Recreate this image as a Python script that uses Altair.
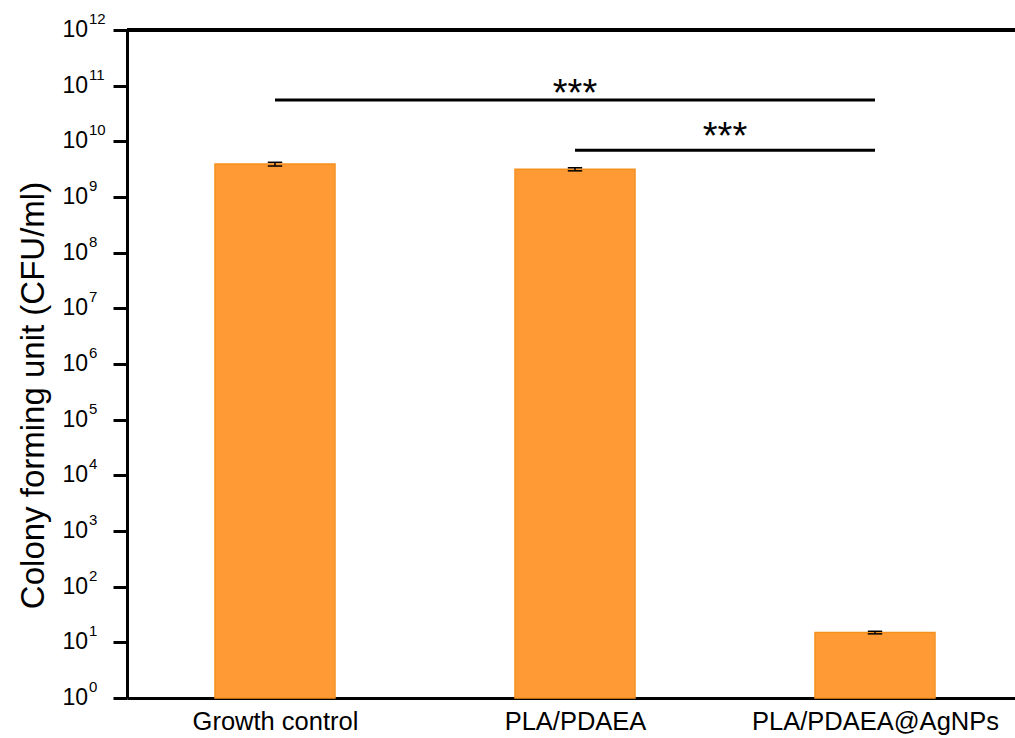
import altair as alt
import pandas as pd

# Bacterial counts per sample (CFU/ml), mean and standard deviation
groups = ["Growth control", "PLA/PDAEA", "PLA/PDAEA@AgNPs"]
cfu_mean = [3.9e9, 3.15e9, 15.0]
cfu_sd = [0.3e9, 0.2e9, 0.8]

# Significance brackets: start group, end group, line level, star level, label
sig_from = [0, 1]
sig_to = [2, 2]
sig_line = [5.5e10, 6.9e9]
sig_text = [9.1e10, 1.55e10]
sig_label = ["***", "***"]

# Decades on the log axis
decades = list(range(0, 13))

FONT = "Liberation Sans"
PLOT_W, PLOT_H = 888, 668
BAR_HALF = 0.2
CAP_HALF = 0.024

bars = pd.DataFrame({
    "group": groups,
    "idx": list(range(len(groups))),
    "mean": cfu_mean,
    "sd": cfu_sd,
})
bars["x0"] = bars["idx"] - BAR_HALF
bars["x1"] = bars["idx"] + BAR_HALF
bars["lo"] = bars["mean"] - bars["sd"]
bars["hi"] = bars["mean"] + bars["sd"]
bars["c0"] = bars["idx"] - CAP_HALF
bars["c1"] = bars["idx"] + CAP_HALF
bars["base"] = 1.0

sig = pd.DataFrame({
    "a": sig_from, "b": sig_to, "line": sig_line,
    "txt": sig_text, "label": sig_label,
})
sig["mid"] = (sig["a"] + sig["b"]) / 2

ticks = pd.DataFrame({"k": decades})
ticks["v"] = [10.0 ** k for k in decades]
ticks["base"] = "10"
ticks["exp"] = [str(k) for k in decades]

xscale = alt.Scale(domain=[-0.4933, 2.4667], nice=False, zero=False)
yscale = alt.Scale(type="log", domain=[1, 1e12], nice=False)

label_expr = "[" + ",".join(f"'{g}'" for g in groups) + "][datum.value]"

x_axis = alt.Axis(
    values=list(range(len(groups))), labelExpr=label_expr, title=None,
    grid=False, ticks=False, domain=True, domainColor="black", domainWidth=3,
    labelFont=FONT, labelFontSize=25.5, labelColor="black", labelPadding=11,
    labelLimit=500,
)
y_axis = alt.Axis(
    values=[10.0 ** k for k in decades], labels=False, grid=False,
    ticks=True, tickSize=14, tickWidth=3, tickColor="black",
    domain=True, domainColor="black", domainWidth=3,
    title="Colony forming unit (CFU/ml)", titleFont=FONT, titleFontSize=33,
    titleFontWeight="normal", titleColor="black",
    titleBaseline="alphabetic", titleX=-84, titleY=365,
)

bar_layer = alt.Chart(bars).mark_bar(
    color="#FF9A35", stroke="#F5901F", strokeWidth=1.5
).encode(
    x=alt.X("x0:Q", scale=xscale, axis=x_axis),
    x2="x1:Q",
    y=alt.Y("mean:Q", scale=yscale, axis=y_axis),
    y2="base:Q",
)

err_v = alt.Chart(bars).mark_rule(color="black", strokeWidth=1.5).encode(
    x=alt.X("idx:Q", scale=xscale), y=alt.Y("lo:Q", scale=yscale), y2="hi:Q"
)
err_top = alt.Chart(bars).mark_rule(color="black", strokeWidth=1.5).encode(
    x=alt.X("c0:Q", scale=xscale), x2="c1:Q", y=alt.Y("hi:Q", scale=yscale)
)
err_bot = alt.Chart(bars).mark_rule(color="black", strokeWidth=1.5).encode(
    x=alt.X("c0:Q", scale=xscale), x2="c1:Q", y=alt.Y("lo:Q", scale=yscale)
)

sig_rules = alt.Chart(sig).mark_rule(color="black", strokeWidth=3).encode(
    x=alt.X("a:Q", scale=xscale), x2="b:Q", y=alt.Y("line:Q", scale=yscale)
)
sig_stars = alt.Chart(sig).mark_text(
    font=FONT, fontSize=38, color="black", baseline="middle", align="center", dy=7
).encode(
    x=alt.X("mid:Q", scale=xscale), y=alt.Y("txt:Q", scale=yscale), text="label:N"
)

# Tick labels of the form 10^k, with a raised exponent
tick_base = alt.Chart(ticks).mark_text(
    font=FONT, fontSize=23, color="black", align="right", baseline="middle"
).encode(
    x=alt.value(-39), y=alt.Y("v:Q", scale=yscale), text="base:N"
)
tick_exp = alt.Chart(ticks).mark_text(
    font=FONT, fontSize=15, color="black", align="left", baseline="middle", dy=-11
).encode(
    x=alt.value(-38), y=alt.Y("v:Q", scale=yscale), text="exp:N"
)

# Top frame line
frame_top = alt.Chart(ticks).mark_rule(color="black", strokeWidth=3).encode(
    x=alt.value(0), x2=alt.value(PLOT_W), y=alt.value(0)
)

chart = alt.layer(
    bar_layer, err_v, err_top, err_bot, sig_rules, sig_stars,
    tick_base, tick_exp, frame_top,
).properties(
    width=PLOT_W, height=PLOT_H,
    autosize=alt.AutoSizeParams(type="none"),
    padding={"left": 127, "top": 30, "right": 0, "bottom": 40},
    background="white",
).configure_view(stroke=None)

chart.save("out.html", embed_options={"renderer": "svg", "actions": False})
